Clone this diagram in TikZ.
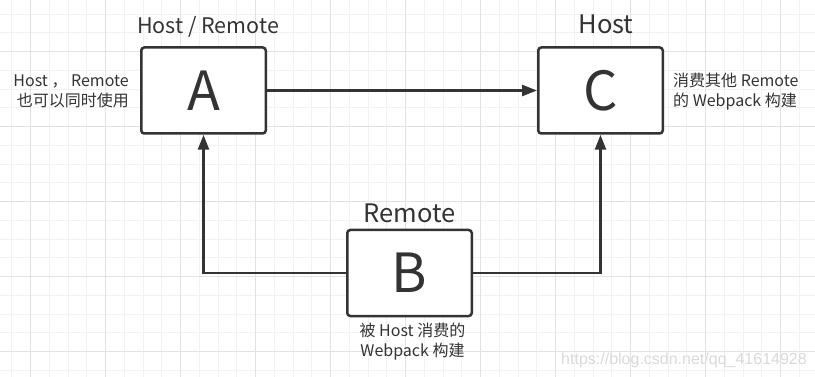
\documentclass[tikz,border=0pt]{standalone}
\usepackage{fontspec}
\setmainfont{Noto Sans CJK SC}
\newfontfamily\urlfont{Liberation Sans}
\usetikzlibrary{arrows.meta, positioning}
\definecolor{ink}{HTML}{333333}
\definecolor{gridminor}{HTML}{F2F2F2}
\definecolor{gridmajor}{HTML}{E2E2E2}
\tikzset{
    box/.style = {
        rectangle, draw=ink, fill=white,
        line width=2.5pt, rounded corners=3pt,
        minimum width=124.5pt,
        minimum height=86pt,
        text=ink, font=\fontsize{54}{54}\selectfont
    },
    title/.style = {
        anchor=base, inner sep=0pt, text=ink
    },
    note/.style = {
        inner sep=0pt, text=ink,
        font=\fontsize{16}{19.5}\selectfont
    },
    arrow/.style = {
        -{Triangle[length=15pt, width=11pt]},
        draw=ink, line width=2.5pt
    }
}

\begin{document}
\begin{tikzpicture}[x=1pt, y=-1pt, node distance=397pt]

\useasboundingbox (0,0) rectangle (815,377);

% grid paper
\foreach \i in {0,...,42}
    \draw [gridminor, line width=1pt] (11.95+18.75*\i,0) -- ++(0,377);
\foreach \i in {0,...,19}
    \draw [gridminor, line width=1pt] (0,14.2+18.75*\i) -- ++(815,0);
\foreach \i in {0,...,10}
    \draw [gridmajor, line width=1pt] (30.7+75*\i,0) -- ++(0,377);
\foreach \i in {0,...,4}
    \draw [gridmajor, line width=1pt] (0,51.7+75*\i) -- ++(815,0);

\node (A) [box] at (203.5,90.5) {A};
\node (C) [box, right of=A] {C};
\node (B) [box] at (409.5,273) {B};

\node (hostremote) [title, font=\fontsize{21.5}{21.5}\selectfont] at (208,33.3) {Host / Remote};
\node (host) [title, font=\fontsize{25.5}{25.5}\selectfont] at (606,34) {Host};
\node (remote) [title, font=\fontsize{25.5}{25.5}\selectfont] at (409.5,223) {Remote};

\node (noteA) [note, anchor=east, align=right] at (129,91.5) {Host ， Remote\\也可以同时使用};
\node (noteC) [note, anchor=west, align=left] at (673,91.5) {消费其他 Remote\\的 Webpack 构建};
\node (noteB) [note, align=center] at (412.5,341.5) {被 Host 消费的\\Webpack 构建};

\draw [arrow] (A) -- (C);
\draw [arrow] (B.west) -| (A.south);
\draw [arrow] (B.east) -| (C.south);

\node (url) [anchor=base, text=black!15, font=\urlfont\fontsize{16}{16}\selectfont] at (684,364.3) {https://blog.csdn.net/qq\_41614928};

\end{tikzpicture}
\end{document}
